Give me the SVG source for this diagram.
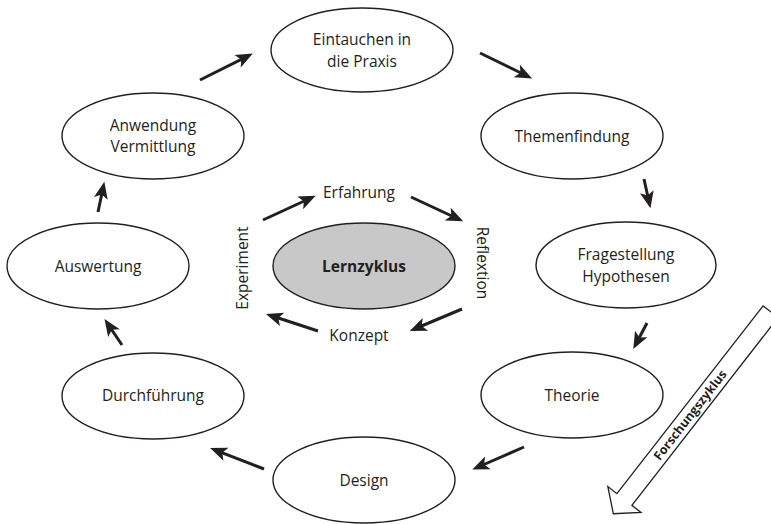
<svg xmlns="http://www.w3.org/2000/svg" width="771" height="524" viewBox="0 0 771 524">
<style>
.n{fill:#fff;stroke:#231f20;stroke-width:1.4}
.g{fill:#c8c8c8;stroke:#231f20;stroke-width:1.4}
text{font-family:"Open Sans","Noto Sans",sans-serif;font-size:15.5px;fill:#231f20;text-anchor:middle}
.b{font-weight:bold}
.a{stroke:#231f20;stroke-width:3;fill:none;marker-end:url(#ah)}
</style>
<defs>
<marker id="ah" markerUnits="userSpaceOnUse" markerWidth="26" markerHeight="20" viewBox="-14 -10 26 20" refX="0" refY="0" orient="auto">
<path d="M9,0 L-8,-7 L-4,0 L-8,7 Z" fill="#231f20"/>
</marker>
</defs>
<rect width="771" height="524" fill="#fff"/>
<g id="connectors">
<path class="a" d="M200,80 L244.8,57.6"/>
<path class="a" d="M480,53 L524,74.5"/>
<path class="a" d="M644,179 L648.5,199.5"/>
<path class="a" d="M647,323 L637.5,341"/>
<path class="a" d="M524,447 L480.5,466"/>
<path class="a" d="M264,469 L218.5,451.3"/>
<path class="a" d="M122,345 L109.5,326.5"/>
<path class="a" d="M98,212 L102.5,190.5"/>
<path class="a" d="M263,220 L307.5,199.5"/>
<path class="a" d="M411,197 L455,217.5"/>
<path class="a" d="M462,309 L418,327.5"/>
<path class="a" d="M318,331 L274.5,316.8"/>
</g>
<g id="eintauchen"><ellipse class="n" cx="362" cy="50" rx="91" ry="42"/><text x="362" y="45">Eintauchen in</text><text x="362" y="67">die Praxis</text></g>
<g id="themenfindung"><ellipse class="n" cx="572" cy="136" rx="91" ry="43"/><text x="572" y="142">Themenfindung</text></g>
<g id="anwendung"><ellipse class="n" cx="153" cy="136" rx="91" ry="43"/><text x="153" y="131">Anwendung</text><text x="153" y="152">Vermittlung</text></g>
<g id="auswertung"><ellipse class="n" cx="98" cy="266" rx="91" ry="43"/><text x="98" y="272">Auswertung</text></g>
<g id="fragestellung"><ellipse class="n" cx="626" cy="265" rx="90" ry="43"/><text x="626" y="260">Fragestellung</text><text x="626" y="282">Hypothesen</text></g>
<g id="lernzyklus"><ellipse class="g" cx="364" cy="266" rx="91" ry="43"/><text class="b" x="364" y="272">Lernzyklus</text></g>
<g id="durchfuehrung"><ellipse class="n" cx="153" cy="396" rx="91" ry="43"/><text x="153" y="401">Durchführung</text></g>
<g id="theorie"><ellipse class="n" cx="572" cy="395" rx="91" ry="43"/><text x="572" y="401">Theorie</text></g>
<g id="design"><ellipse class="n" cx="364" cy="480" rx="91" ry="43"/><text x="364" y="486">Design</text></g>
<g id="erfahrung"><text x="359" y="198">Erfahrung</text></g>
<g id="konzept"><text x="359" y="341">Konzept</text></g>
<g id="experiment"><text transform="translate(248,268) rotate(-90)" x="0" y="0">Experiment</text></g>
<g id="reflextion"><text transform="translate(477,263) rotate(90)" x="0" y="0">Reflextion</text></g>
<g id="forschungszyklus">
<path d="M0,-9.5 L238,-9.5 L238,-21 L256,0 L238,21 L238,9.5 L0,9.5 Z" transform="translate(770.6,311.7) rotate(127.9)" fill="#fff" stroke="#231f20" stroke-width="1.3"/>
<text class="b" style="font-size:12.5px" transform="translate(690,415) rotate(-52.1)" x="0" y="4.5">Forschungszyklus</text>
</g>
</svg>
